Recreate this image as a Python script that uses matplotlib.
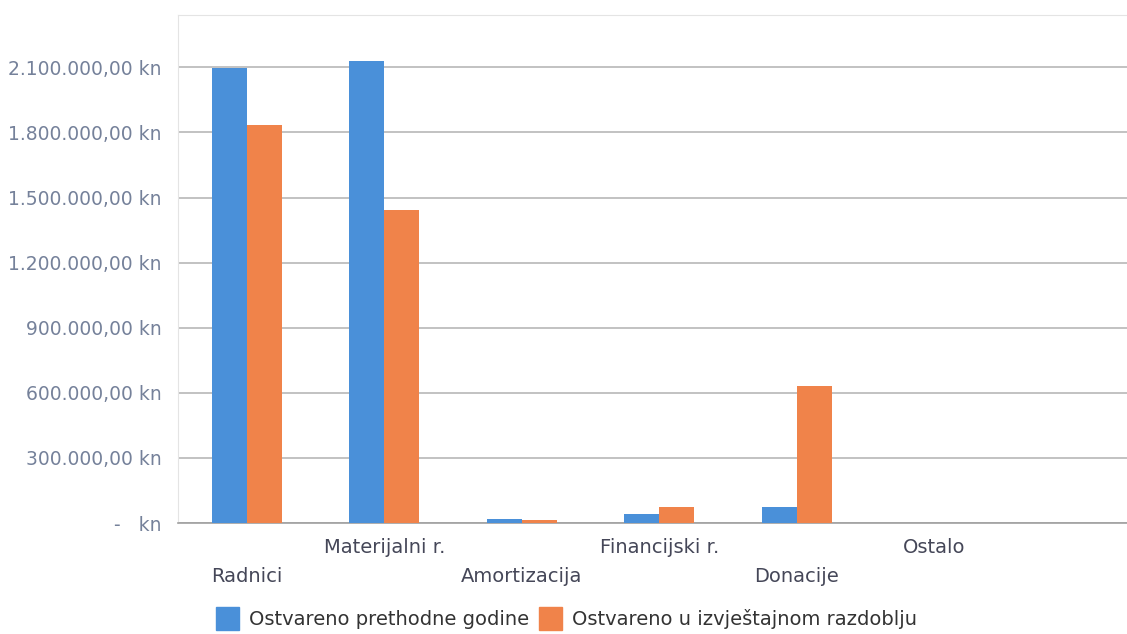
import numpy as np
import matplotlib
matplotlib.use('Agg')
import matplotlib.pyplot as plt
import matplotlib.ticker as ticker
from matplotlib.patches import Patch

# Data
categories = ['Radnici', 'Materijalni r.', 'Amortizacija', 'Financijski r.', 'Donacije', 'Ostalo']
prethodne = [2095000, 2128000, 18000, 41000, 74000, 0]
izvjestajno = [1833000, 1441000, 15000, 74000, 631000, 0]
y_ticks = [0, 300000, 600000, 900000, 1200000, 1500000, 1800000, 2100000]

blue = '#4a90d9'
orange = '#f0834a'

def kn_fmt(v, pos):
    if v == 0:
        return '-   kn'
    s = f'{v:,.2f}'.replace(',', 'X').replace('.', ',').replace('X', '.')
    return s + ' kn'

fig = plt.figure(figsize=(11.27, 6.34), dpi=100)
ax = fig.add_axes([0.158, 0.175, 0.842, 0.801])

x = np.arange(len(categories))
w = 0.255
ax.bar(x - w / 2, prethodne, width=w, color=blue, zorder=3)
ax.bar(x + w / 2, izvjestajno, width=w, color=orange, zorder=3)

ax.set_xlim(-0.5, 6.4)
ax.set_ylim(0, 2340000)
ax.set_yticks(y_ticks)
ax.yaxis.set_major_formatter(ticker.FuncFormatter(kn_fmt))
ax.tick_params(axis='y', length=0, pad=12, labelsize=13.5, labelcolor='#75819a')
ax.set_xticks([])
ax.grid(axis='y', color='#b8b8b8', linewidth=1.2, zorder=0)

for s in ['left', 'top']:
    ax.spines[s].set_color('#e4e4e4')
ax.spines['right'].set_visible(False)
ax.spines['bottom'].set_color('#a0a0a0')
ax.spines['bottom'].set_linewidth(1.2)

# staggered category labels
for i, c in enumerate(categories):
    off = 32 if i % 2 == 0 else 11
    ax.annotate(c, (i, 0), xytext=(0, -off), textcoords='offset points',
                ha='center', va='top', fontsize=14, color='#454758')

handles = [Patch(color=blue, label='Ostvareno prethodne godine'),
           Patch(color=orange, label='Ostvareno u izvještajnom razdoblju')]
fig.legend(handles=handles, loc='lower left', bbox_to_anchor=(0.176, -0.022), ncol=2,
           frameon=False, fontsize=14, handlelength=1.2, handleheight=1.5,
           columnspacing=0.5, handletextpad=0.5, labelcolor='#333333')

fig.savefig('out.png', dpi=100)
